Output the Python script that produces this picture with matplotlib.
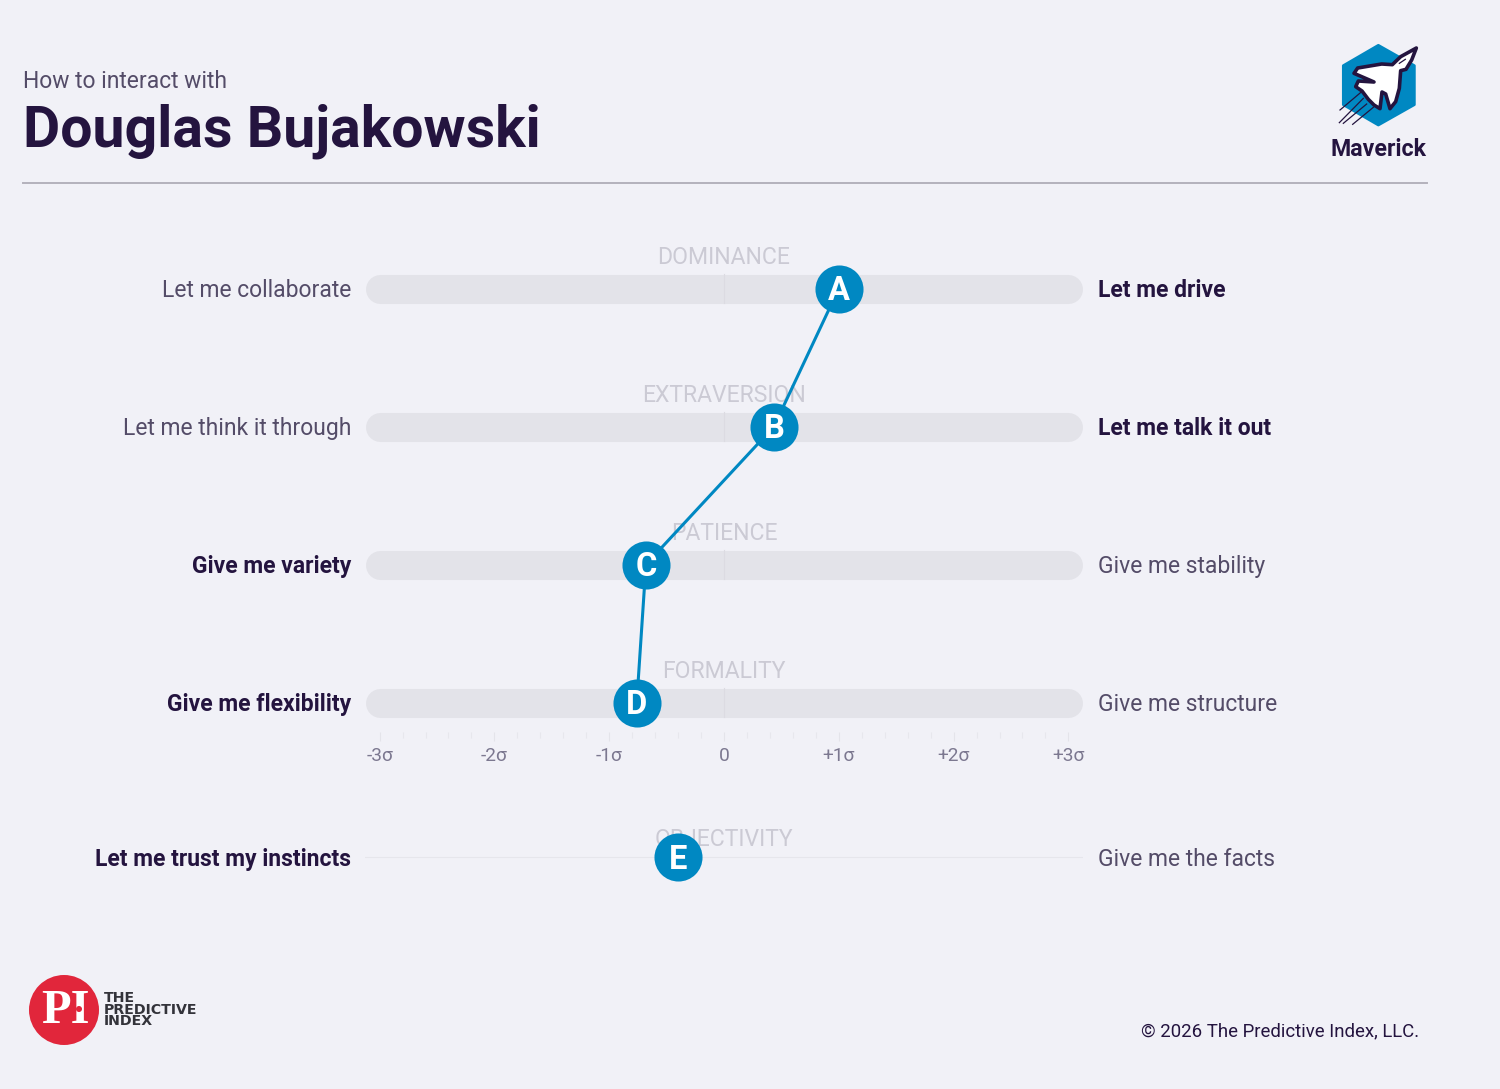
import matplotlib
matplotlib.use("Agg")
import matplotlib.pyplot as plt
from matplotlib.patches import Polygon, Circle

traits = ["DOMINANCE", "EXTRAVERSION", "PATIENCE", "FORMALITY", "OBJECTIVITY"]
letters = ["A", "B", "C", "D", "E"]
scores = [1.0, 0.435, -0.68, -0.76, -0.40]
left_labels = ["Let me collaborate", "Let me think it through", "Give me variety",
               "Give me flexibility", "Let me trust my instincts"]
right_labels = ["Let me drive", "Let me talk it out", "Give me stability",
                "Give me structure", "Give me the facts"]
bold_left = [False, False, True, True, True]
rows = [0, 1, 2, 3, 4.123]
sigma_ticks = [-3, -2, -1, 0, 1, 2, 3]
sigma_labels = ["-3σ", "-2σ", "-1σ", "0", "+1σ", "+2σ", "+3σ"]
minor_ticks = [k / 5 for k in range(-15, 16) if k % 5]

BG = "#F1F1F7"
TRACK = "#E3E3E9"
TRAIT = "#CBCAD4"
GRAY = "#544C68"
DARK = "#24143F"
BLUE = "#0088C2"
W, H = 1500, 1089

plt.rcParams["font.family"] = ["Roboto", "DejaVu Sans"]
fig = plt.figure(figsize=(W / 100, H / 100), dpi=100, facecolor=BG)

# page furniture, in pixel coordinates
bg = fig.add_axes([0, 0, 1, 1])
bg.set_xlim(0, W)
bg.set_ylim(H, 0)
bg.axis("off")

bg.text(23, 82, "How to interact with", fontsize=16.5, color=GRAY, va="center")
bg.text(23, 131, "Douglas Bujakowski", fontsize=41.2, color=DARK, va="center", fontweight="bold")
bg.plot([22.5, 1426.5], [183, 183], color="#B4B2BC", lw=1.4)
bg.text(1379, 150, "Maverick", fontsize=16.7, color=DARK, va="center", ha="center", fontweight="bold")
bg.text(1419, 1031, "© 2026 The Predictive Index, LLC.", fontsize=13.45, color=DARK, va="center", ha="right")


def zp(points):
    return [(1300 + x / 3, 30 + y / 3) for x, y in points]


bg.add_patch(Polygon(zp([(235, 46), (343, 107), (343, 224), (235, 285), (130, 224), (130, 107)]),
                     closed=True, fc=BLUE, ec=BLUE, lw=2, joinstyle="round"))
bg.add_patch(Polygon(zp([(349, 54), (335, 90), (318, 118), (302, 122), (298, 175), (287, 215),
                         (270, 236), (257, 192), (246, 186), (240, 236), (222, 225), (205, 208),
                         (186, 183), (167, 170), (175, 153), (222, 156), (162, 130), (173, 114),
                         (245, 102), (277, 104), (302, 80)]),
                     closed=True, fc="white", ec=DARK, lw=2.6, joinstyle="round"))
for seg in ([(185, 185), (120, 240)], [(190, 205), (118, 278)],
            [(200, 222), (130, 280)], [(220, 232), (158, 283)], [(298, 100), (316, 88)]):
    (x0, y0), (x1, y1) = zp(seg)
    bg.plot([x0, x1], [y0, y1], color=DARK, lw=0.9)

bg.add_patch(Circle((64, 1010), 35, fc="#E1263B", ec="none"))
bg.text(65, 1011, "PI", fontsize=35, color="white", family="Liberation Serif",
        fontweight="bold", ha="center", va="center")
bg.add_patch(Circle((79, 1009), 3, fc="#E1263B", ec="none", zorder=5))
for y, word in zip((998, 1009.5, 1021), ("THE", "PREDICTIVE", "INDEX")):
    bg.text(103.5, y, word, fontsize=10.2, color="#33333A", family="DejaVu Sans",
            fontweight="bold", va="center")

# chart: x in sigma units, y in rows
ax = fig.add_axes([365 / W, 1 - 899.5 / H, 718 / W, 670 / H], facecolor="none")
ax.set_xlim(-3.127, 3.127)
ax.set_ylim((900 - 289) / 138, (230 - 289) / 138)
for s in ax.spines.values():
    s.set_visible(False)
ax.yaxis.set_visible(False)
ax.spines["bottom"].set_position(("data", (732.5 - 289) / 138))
ax.set_xticks(sigma_ticks, sigma_labels)
ax.set_xticks(minor_ticks, minor=True)
ax.tick_params(axis="x", which="major", length=6.5, width=0.8, color="#E4E4EA",
               labelcolor="#7C7890", labelsize=13.8, pad=4.5)
ax.tick_params(axis="x", which="minor", length=4.5, width=0.8, color="#E7E7ED")

inset = 14.5 / 114.8
for i, row in enumerate(rows):
    if i < 4:
        ax.plot([-3.127 + inset, 3.127 - inset], [row, row], color=TRACK, lw=20.9,
                solid_capstyle="round", zorder=1)
        ax.plot([0, 0], [row - 0.105, row + 0.105], color="#DCDBE2", lw=0.8, zorder=1.5)
        ty = row - 30.5 / 138
    else:
        ax.plot([-3.127, 3.127], [row, row], color="#E6E6EC", lw=0.8, zorder=1)
        ty = row - 18 / 138
    ax.text(0, ty, traits[i], color=TRAIT, fontsize=16.6, ha="center", va="center", zorder=2)

    tr = ax.get_yaxis_transform()
    ax.text(-14 / 718, row + 2.3 / 138, left_labels[i], transform=tr, ha="right", va="center", fontsize=16.5,
            color=DARK if bold_left[i] else GRAY, fontweight="bold" if bold_left[i] else "normal")
    ax.text(733 / 718, row + 2.3 / 138, right_labels[i], transform=tr, ha="left", va="center", fontsize=16.5,
            color=GRAY if bold_left[i] else DARK, fontweight="normal" if bold_left[i] else "bold")

ax.plot(scores[:4], rows[:4], color=BLUE, lw=2.2, zorder=3)
ax.plot(scores, rows, ls="none", marker="o", ms=34.6, mfc=BLUE, mec="none", zorder=4)
for score, row, letter in zip(scores, rows, letters):
    ax.text(score, row - 0.5 / 138, letter, color="white", fontsize=23.5, fontweight="bold",
            ha="center", va="center_baseline", zorder=5)

fig.savefig("out.png", dpi=100, facecolor=BG)
